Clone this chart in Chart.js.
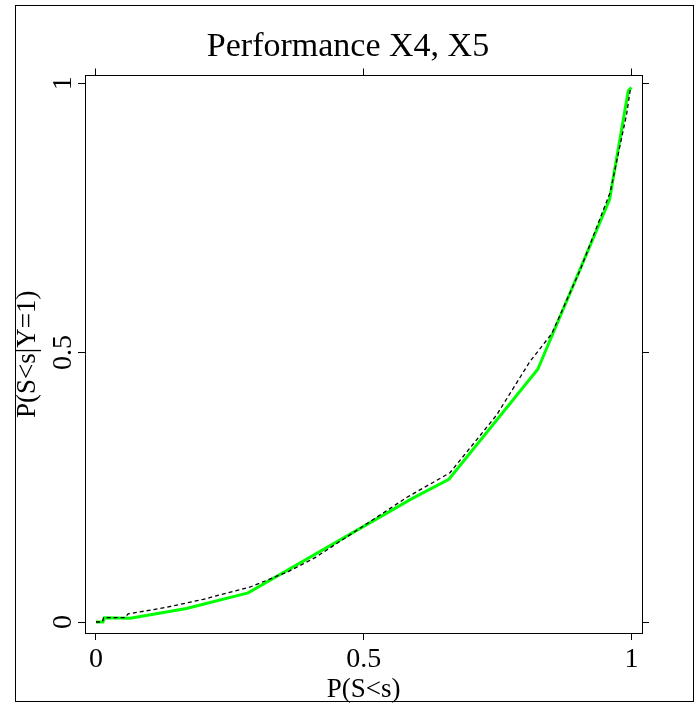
<!DOCTYPE html>
<html>
<head>
<meta charset="utf-8">
<script src="https://cdn.jsdelivr.net/npm/chart.js@4/dist/chart.umd.min.js"></script>
<style>
  html, body { margin: 0; padding: 0; background: #fff; }
  #wrap { width: 696px; height: 705px; }
</style>
</head>
<body>
<div id="wrap"><canvas id="c" width="696" height="705"></canvas></div>
<script>
// ---- data ----
const chartTitle = 'Performance X4, X5';
const xAxisTitle = 'P(S<s)';
const yAxisTitle = 'P(S<s|Y=1)';

const xTickValues = [0, 0.5, 1];
const xTickLabels = ['0', '0.5', '1'];
const yTickValues = [0, 0.5, 1];
const yTickLabels = ['0', '0.5', '1'];

// green (fitted) curve
const greenX = [0, 0.013, 0.016, 0.064, 0.169, 0.284, 0.59, 0.659, 0.825, 0.959, 0.994, 1.0];
const greenY = [0, 0, 0.008, 0.007, 0.025, 0.054, 0.229, 0.265, 0.469, 0.784, 0.986, 0.992];

// dashed (empirical) curve
const dashX = [0, 0.012, 0.014, 0.054, 0.06, 0.13, 0.2, 0.288, 0.36, 0.41, 0.493, 0.58, 0.661, 0.748, 0.81, 0.851, 0.904, 0.96, 0.991, 0.998];
const dashY = [0, 0, 0.008, 0.008, 0.015, 0.027, 0.042, 0.065, 0.094, 0.12, 0.174, 0.231, 0.277, 0.384, 0.483, 0.535, 0.653, 0.797, 0.943, 0.99];

const toPts = (xs, ys) => xs.map((x, i) => ({ x: x, y: ys[i] }));

Chart.defaults.font.family = '"Liberation Serif", "Times New Roman", serif';
Chart.defaults.color = '#000';

const frame = {
  id: 'frame',
  beforeDraw(chart) {
    const ctx = chart.ctx;
    ctx.save();
    ctx.fillStyle = '#fff';
    ctx.fillRect(0, 0, chart.width, chart.height);
    ctx.restore();
  },
  afterDraw(chart) {
    const ctx = chart.ctx;
    ctx.save();
    ctx.strokeStyle = '#000';
    ctx.lineWidth = 1;
    ctx.strokeRect(15.5, 5.5, 678, 696);
    ctx.restore();
  }
};

const setTicks = (vals) => (scale) => { scale.ticks = vals.map(v => ({ value: v })); };

const X_MIN = -0.02054, X_MAX = 1.0196;
const Y_MIN = -0.0204, Y_MAX = 1.01427;

new Chart(document.getElementById('c'), {
  type: 'line',
  data: {
    datasets: [
      {
        label: 'empirical',
        data: toPts(dashX, dashY),
        borderColor: '#000',
        borderWidth: 1.3,
        borderDash: [4, 3],
        pointRadius: 0,
        tension: 0,
        fill: false
      },
      {
        label: 'fitted',
        data: toPts(greenX, greenY),
        borderColor: '#00ff00',
        borderWidth: 3,
        pointRadius: 0,
        tension: 0,
        fill: false
      }
    ]
  },
  options: {
    responsive: false,
    animation: false,
    devicePixelRatio: 1,
    layout: { padding: 0 },
    plugins: {
      legend: { display: false },
      tooltip: { enabled: false },
      title: {
        display: true,
        text: chartTitle,
        color: '#000',
        font: { size: 34, weight: 'normal' },
        padding: { top: 26.2, bottom: 0.5 }
      }
    },
    scales: {
      x: {
        type: 'linear',
        position: 'bottom',
        min: X_MIN, max: X_MAX,
        afterBuildTicks: setTicks(xTickValues),
        afterFit: (s) => { s.height = 72; },
        ticks: {
          callback: (v, i) => xTickLabels[i],
          font: { size: 28 },
          padding: 3,
          maxRotation: 0, minRotation: 0,
          color: '#000'
        },
        grid: { drawOnChartArea: false, drawTicks: true, tickLength: 7, color: '#000' },
        border: { display: true, color: '#000', width: 1 },
        title: {
          display: true, text: xAxisTitle, color: '#000',
          font: { size: 27 }, padding: { top: 0, bottom: -1 }
        }
      },
      x2: {
        type: 'linear',
        position: 'top',
        min: X_MIN, max: X_MAX,
        afterBuildTicks: setTicks(xTickValues),
        afterFit: (s) => { s.height = 8; },
        ticks: { display: false },
        grid: { drawOnChartArea: false, drawTicks: true, tickLength: 7, color: '#000' },
        border: { display: true, color: '#000', width: 1 }
      },
      y: {
        type: 'linear',
        position: 'left',
        min: Y_MIN, max: Y_MAX,
        afterBuildTicks: setTicks(yTickValues),
        afterFit: (s) => { s.width = 85; },
        ticks: {
          callback: (v, i) => yTickLabels[i],
          font: { size: 28 },
          padding: -3,
          minRotation: 90, maxRotation: 90,
          crossAlign: 'center',
          color: '#000'
        },
        grid: { drawOnChartArea: false, drawTicks: true, tickLength: 7, color: '#000' },
        border: { display: true, color: '#000', width: 1 },
        title: {
          display: true, text: yAxisTitle, color: '#000',
          font: { size: 27 }, padding: { top: 11.6, bottom: 0 }
        }
      },
      y2: {
        type: 'linear',
        position: 'right',
        min: Y_MIN, max: Y_MAX,
        afterBuildTicks: setTicks(yTickValues),
        afterFit: (s) => { s.width = 54; },
        ticks: { display: false },
        grid: { drawOnChartArea: false, drawTicks: true, tickLength: 7, color: '#000' },
        border: { display: true, color: '#000', width: 1 }
      }
    }
  },
  plugins: [frame]
});
</script>
</body>
</html>
